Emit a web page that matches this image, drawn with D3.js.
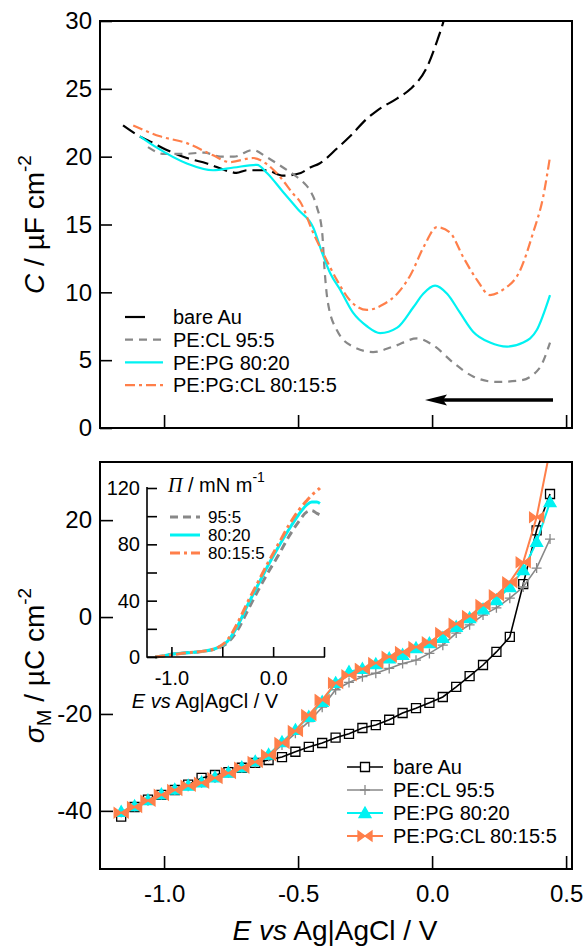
<!DOCTYPE html>
<html>
<head>
<meta charset="utf-8">
<script src="https://cdn.jsdelivr.net/npm/d3@7"></script>
<style>
  body { margin: 0; background: #fff; }
  svg { display: block; font-family: "Liberation Sans", Arial, sans-serif; }
</style>
</head>
<body>
<div class="container"></div>
<script>
// ---- top panel: capacitance C vs E ----
var bareAuE = [-1.153, -1.10, -1.04, -0.99, -0.915, -0.84, -0.755, -0.73, -0.69, -0.62, -0.555, -0.49, -0.455, -0.42, -0.355, -0.306, -0.243, -0.205, -0.13, -0.08, -0.019, 0.02, 0.04, 0.05];
var bareAuC = [22.3, 21.6, 21.0, 20.5, 19.9, 19.5, 18.9, 18.8, 19.0, 19.0, 18.6, 18.8, 19.2, 19.5, 20.6, 21.5, 22.8, 23.4, 24.3, 25.0, 26.6, 28.6, 29.8, 30.5];

var peClE = [-1.06, -1.0, -0.93, -0.85, -0.79, -0.74, -0.668, -0.62, -0.556, -0.504, -0.47, -0.455, -0.43, -0.41, -0.402, -0.39, -0.355, -0.295, -0.22, -0.145, -0.056, 0.004, 0.08, 0.153, 0.24, 0.328, 0.40, 0.44];
var peClC = [20.7, 20.2, 20.2, 20.3, 20.0, 20.0, 20.5, 20.0, 19.2, 18.5, 17.9, 17.5, 16.3, 14.4, 11.9, 9.4, 7.2, 6.0, 5.6, 6.0, 6.6, 6.1, 4.8, 3.8, 3.4, 3.5, 4.4, 6.3];

var pePgE = [-1.09, -1.03, -0.915, -0.817, -0.74, -0.653, -0.616, -0.556, -0.50, -0.444, -0.41, -0.38, -0.343, -0.295, -0.243, -0.194, -0.13, -0.07, -0.033, 0.011, 0.056, 0.104, 0.153, 0.216, 0.28, 0.34, 0.39, 0.44];
var pePgC = [21.5, 20.7, 19.5, 19.0, 19.2, 19.4, 18.8, 17.4, 16.1, 14.8, 12.9, 11.4, 10.2, 8.5, 7.5, 7.0, 7.4, 8.9, 9.9, 10.5, 9.9, 8.5, 7.1, 6.3, 6.0, 6.3, 7.2, 9.8];

var pePgClE = [-1.115, -1.015, -0.915, -0.817, -0.755, -0.668, -0.62, -0.567, -0.52, -0.49, -0.444, -0.407, -0.355, -0.306, -0.243, -0.183, -0.13, -0.08, -0.03, 0.018, 0.067, 0.116, 0.168, 0.216, 0.265, 0.328, 0.377, 0.414, 0.44];
var pePgClC = [22.3, 21.5, 21.0, 20.1, 19.6, 19.9, 19.5, 18.5, 17.3, 16.6, 14.4, 12.9, 10.9, 9.4, 8.7, 9.1, 9.9, 11.3, 13.4, 14.8, 14.4, 12.6, 10.9, 9.8, 10.2, 11.6, 14.4, 17.0, 20.0];

// ---- bottom panel: charge density sigma_M vs E ----
var sigmaE = [-1.16, -1.11, -1.06, -1.01, -0.96, -0.91, -0.86, -0.81, -0.76, -0.71, -0.66, -0.61, -0.56, -0.51, -0.46, -0.41, -0.36, -0.31, -0.26, -0.21, -0.16, -0.11, -0.06, -0.01, 0.04, 0.09, 0.14, 0.19, 0.24, 0.29, 0.34, 0.39, 0.44];
var sigmaBareAu = [-41.2, -39.2, -37.7, -36.7, -35.7, -34.6, -33.2, -32.6, -32.0, -31.1, -30.1, -29.5, -28.9, -27.8, -26.8, -26.0, -24.9, -24.1, -22.9, -22.3, -21.2, -19.8, -18.8, -17.7, -16.5, -14.4, -12.2, -9.9, -7.2, -4.1, 6.8, 17.9, 25.4];
var sigmaPeCl = [-40.3, -39.1, -37.9, -36.7, -35.7, -34.9, -34.2, -33.2, -32.2, -31.1, -30.0, -28.8, -26.4, -24.0, -21.6, -18.6, -15.0, -13.5, -12.3, -11.6, -10.6, -9.6, -8.9, -7.5, -5.8, -3.3, -1.6, 0.4, 1.9, 3.9, 6.2, 10.1, 16.1];
var sigmaPePg = [-40.2, -39.0, -37.8, -36.6, -35.6, -34.8, -34.1, -33.1, -32.1, -31.0, -29.8, -28.4, -25.8, -23.3, -20.6, -17.5, -13.6, -11.3, -10.7, -9.7, -8.5, -7.8, -6.4, -5.4, -4.3, -2.0, -0.2, 1.6, 3.5, 6.2, 9.7, 15.5, 23.7];
var sigmaPePgCl = [-40.4, -39.2, -37.9, -36.7, -35.7, -34.8, -34.2, -33.2, -32.2, -31.1, -29.9, -28.5, -26.0, -23.5, -20.2, -17.1, -13.6, -12.0, -10.7, -9.5, -8.2, -7.2, -6.2, -5.2, -3.3, -1.4, 0.2, 2.5, 4.5, 7.2, 11.3, 20.6, 34.5];

// ---- inset: surface pressure Pi vs E ----
var piE = [-1.16, -1.1, -1.0, -0.85, -0.7, -0.55, -0.45, -0.35, -0.25, -0.15, -0.05, 0.05, 0.15, 0.25, 0.33, 0.38, 0.43, 0.46];
var pi95 = [0, 0.5, 2, 3, 4, 6, 10, 19, 33, 47, 60, 72, 85, 96, 103, 104, 102, 101];
var pi8020 = [0, 0.5, 2, 3, 4, 6.5, 11, 22, 37, 51, 65, 78, 90, 101, 108, 110, 110, 109];
var pi80155 = [0, 0.5, 1.5, 3, 4, 6.5, 12, 24, 39, 53, 67, 80, 93, 104, 111, 115, 118, 120];

// ---- labels and ticks ----
var seriesNames = ["bare Au", "PE:CL 95:5", "PE:PG 80:20", "PE:PG:CL 80:15:5"];
var insetNames = ["95:5", "80:20", "80:15:5"];
var eTicks = [-1.0, -0.5, 0.0, 0.5];
var cTicks = [0, 5, 10, 15, 20, 25, 30];
var sigmaTicks = [-40, -20, 0, 20];
var piTicks = [0, 20, 40, 60, 80, 100, 120];
var piTickLabels = [0, 40, 80, 120];
var insetETickLabels = [-1.0, 0.0];

var COLORS = { black: "#000000", gray: "#888888", cyan: "#00F2F2", orange: "#FF7F4A" };
var W = 585, H = 947;
var PLOT = { left: 100, right: 572 };
var TOP = { top: 21, bottom: 428 };
var BOT = { top: 462, bottom: 869 };

var svg = d3.select(".container").append("svg")
    .attr("width", W).attr("height", H)
    .attr("viewBox", `0 0 ${W} ${H}`);

var x = d3.scaleLinear().domain([-1.239, 0.522]).range([PLOT.left, PLOT.right]);
var yC = d3.scaleLinear().domain([0, 30]).range([TOP.bottom, TOP.top]);
var yS = d3.scaleLinear().domain([-52, 32]).range([BOT.bottom, BOT.top]);

var defs = svg.append("defs");
defs.append("clipPath").attr("id", "clipTop").append("rect")
    .attr("x", PLOT.left).attr("y", TOP.top)
    .attr("width", PLOT.right - PLOT.left).attr("height", TOP.bottom - TOP.top);
defs.append("clipPath").attr("id", "clipBot").append("rect")
    .attr("x", PLOT.left).attr("y", BOT.top)
    .attr("width", PLOT.right - PLOT.left).attr("height", BOT.bottom - BOT.top);

function zip(a, b) { return a.map((d, i) => [d, b[i]]); }

function styleAxis(g, size) {
    g.select(".domain").remove();
    g.selectAll(".tick line").attr("stroke", "#000").attr("stroke-width", 1.6);
    g.selectAll(".tick text").attr("fill", "#000").style("font-size", size + "px");
}

// ================= TOP PANEL =================
var topLine = d3.line().x(d => x(d[0])).y(d => yC(d[1])).curve(d3.curveMonotoneX);

var topSeries = [
    { e: bareAuE, v: bareAuC, color: COLORS.black, dash: "14,6" },
    { e: peClE, v: peClC, color: COLORS.gray, dash: "8,6" },
    { e: pePgE, v: pePgC, color: COLORS.cyan, dash: null },
    { e: pePgClE, v: pePgClC, color: COLORS.orange, dash: "10,4,3,4" }
];

var topPlot = svg.append("g").attr("clip-path", "url(#clipTop)");
topSeries.forEach(function (s) {
    topPlot.append("path")
        .datum(zip(s.e, s.v))
        .attr("d", topLine)
        .attr("fill", "none")
        .attr("stroke", s.color)
        .attr("stroke-width", 2.2)
        .attr("stroke-dasharray", s.dash);
});

svg.append("g")
    .attr("transform", `translate(${PLOT.left},0)`)
    .call(d3.axisLeft(yC).tickValues(cTicks).tickSizeInner(-12).tickSizeOuter(0).tickPadding(8))
    .call(g => styleAxis(g, 24));

svg.append("g")
    .attr("transform", `translate(0,${TOP.bottom})`)
    .call(d3.axisBottom(x).tickValues(eTicks).tickSizeInner(-13).tickSizeOuter(0).tickFormat(""))
    .call(g => styleAxis(g, 24));

svg.append("rect")
    .attr("x", PLOT.left).attr("y", TOP.top)
    .attr("width", PLOT.right - PLOT.left).attr("height", TOP.bottom - TOP.top)
    .attr("fill", "none").attr("stroke", "#000").attr("stroke-width", 2);

// y title
var tTitle = svg.append("text")
    .attr("transform", `translate(44,${(TOP.top + TOP.bottom) / 2}) rotate(-90)`)
    .attr("text-anchor", "middle")
    .style("font-size", "28px");
tTitle.append("tspan").style("font-style", "italic").text("C");
tTitle.append("tspan").text(" / \u00B5F cm");
tTitle.append("tspan").attr("dy", -13).style("font-size", "19px").text("-2");

// top legend
var topLegend = svg.append("g");
topSeries.forEach(function (s, i) {
    var yy = 317 + i * 22.7;
    topLegend.append("line")
        .attr("x1", 125).attr("x2", i === 0 ? 145 : 163)
        .attr("y1", yy).attr("y2", yy)
        .attr("stroke", s.color).attr("stroke-width", 2.2)
        .attr("stroke-dasharray", i === 0 ? null : s.dash);
    topLegend.append("text")
        .attr("x", 173).attr("y", yy).attr("dy", "0.36em")
        .style("font-size", "20px")
        .text(seriesNames[i]);
});

// scan direction arrow
svg.append("line")
    .attr("x1", 553).attr("y1", 400).attr("x2", 440).attr("y2", 400)
    .attr("stroke", "#000").attr("stroke-width", 3.5);
svg.append("path")
    .attr("d", "M425,400 L447,394.5 L443,400 L447,405.5 Z")
    .attr("fill", "#000");

// ================= BOTTOM PANEL =================
var botLine = d3.line().x(d => x(d[0])).y(d => yS(d[1]));

var squarePath = "M-4.5,-4.5H4.5V4.5H-4.5Z";
var plusPath = "M-5,0H5M0,-5V5";
var triPath = "M0,-6L6,4.5H-6Z";
var bowPath = "M-7,-5L0,0L-7,5Z M7,-5L0,0L7,5Z";

var botSeries = [
    { v: sigmaBareAu, color: COLORS.black, marker: squarePath, fill: "#fff", mstroke: COLORS.black, width: 1.6 },
    { v: sigmaPeCl, color: COLORS.gray, marker: plusPath, fill: "none", mstroke: COLORS.gray, width: 1.6 },
    { v: sigmaPePg, color: COLORS.cyan, marker: triPath, fill: COLORS.cyan, mstroke: COLORS.cyan, width: 2 },
    { v: sigmaPePgCl, color: COLORS.orange, marker: bowPath, fill: COLORS.orange, mstroke: COLORS.orange, width: 2 }
];

var botPlot = svg.append("g").attr("clip-path", "url(#clipBot)");
botSeries.forEach(function (s) {
    var pts = zip(sigmaE, s.v);
    botPlot.append("path")
        .datum(pts)
        .attr("d", botLine)
        .attr("fill", "none")
        .attr("stroke", s.color)
        .attr("stroke-width", s.width);
    botPlot.selectAll(null)
        .data(pts)
        .enter()
        .append("path")
        .attr("transform", d => `translate(${x(d[0])},${yS(d[1])})`)
        .attr("d", s.marker)
        .attr("fill", s.fill === "#fff" ? "none" : s.fill)
        .attr("stroke", s.mstroke)
        .attr("stroke-width", 1.3);
});

svg.append("g")
    .attr("transform", `translate(${PLOT.left},0)`)
    .call(d3.axisLeft(yS).tickValues(sigmaTicks).tickSizeInner(-13).tickSizeOuter(0).tickPadding(8)
        .tickFormat(d => String(d)))
    .call(g => styleAxis(g, 24));

svg.append("g")
    .attr("transform", `translate(0,${BOT.bottom})`)
    .call(d3.axisBottom(x).tickValues(eTicks).tickSizeInner(-13).tickSizeOuter(0).tickPadding(16)
        .tickFormat(d => d.toFixed(1)))
    .call(g => styleAxis(g, 24));

svg.append("rect")
    .attr("x", PLOT.left).attr("y", BOT.top)
    .attr("width", PLOT.right - PLOT.left).attr("height", BOT.bottom - BOT.top)
    .attr("fill", "none").attr("stroke", "#000").attr("stroke-width", 2);

var sTitle = svg.append("text")
    .attr("transform", `translate(44,${(BOT.top + BOT.bottom) / 2}) rotate(-90)`)
    .attr("text-anchor", "middle")
    .style("font-size", "28px");
sTitle.append("tspan").style("font-style", "italic").text("\u03C3");
sTitle.append("tspan").attr("dy", 7).style("font-size", "20px").text("M");
sTitle.append("tspan").attr("dy", -7).text(" / \u00B5C cm");
sTitle.append("tspan").attr("dy", -13).style("font-size", "19px").text("-2");

var xTitle = svg.append("text")
    .attr("x", 335).attr("y", 940)
    .attr("text-anchor", "middle")
    .style("font-size", "28px");
xTitle.append("tspan").style("font-style", "italic").text("E vs");
xTitle.append("tspan").text(" Ag|AgCl / V");

// bottom legend
var botLegend = svg.append("g");
botSeries.forEach(function (s, i) {
    var yy = 767 + i * 23;
    botLegend.append("line")
        .attr("x1", 347).attr("x2", 383).attr("y1", yy).attr("y2", yy)
        .attr("stroke", s.color).attr("stroke-width", s.width);
    botLegend.append("path")
        .attr("transform", `translate(365,${yy})`)
        .attr("d", s.marker)
        .attr("fill", s.fill)
        .attr("stroke", s.mstroke)
        .attr("stroke-width", 1.3);
    botLegend.append("text")
        .attr("x", 393).attr("y", yy).attr("dy", "0.36em")
        .style("font-size", "20px")
        .text(seriesNames[i]);
});

// ================= INSET =================
var xi = d3.scaleLinear().domain([-1.24, 0.5]).range([147, 324]);
var yi = d3.scaleLinear().domain([0, 120]).range([657, 488]);
var insetLine = d3.line().x(d => xi(d[0])).y(d => yi(d[1])).curve(d3.curveMonotoneX);

var insetSeries = [
    { v: pi95, color: COLORS.gray, dash: "8,5" },
    { v: pi8020, color: COLORS.cyan, dash: null },
    { v: pi80155, color: COLORS.orange, dash: "10,4,3,4" }
];
insetSeries.forEach(function (s) {
    svg.append("path")
        .datum(zip(piE, s.v))
        .attr("d", insetLine)
        .attr("fill", "none")
        .attr("stroke", s.color)
        .attr("stroke-width", 3)
        .attr("stroke-dasharray", s.dash);
});

svg.append("g")
    .attr("transform", "translate(147,0)")
    .call(d3.axisLeft(yi).tickValues(piTicks).tickSizeInner(-10).tickSizeOuter(0).tickPadding(7)
        .tickFormat(d => piTickLabels.includes(d) ? String(d) : ""))
    .call(g => styleAxis(g, 20));

svg.append("g")
    .attr("transform", "translate(0,657)")
    .call(d3.axisBottom(xi).tickValues(eTicks).tickSizeInner(-10).tickSizeOuter(0).tickPadding(14)
        .tickFormat(d => insetETickLabels.includes(d) ? d.toFixed(1) : ""))
    .call(g => styleAxis(g, 20));

svg.append("path")
    .attr("d", "M147,487V657H325")
    .attr("fill", "none").attr("stroke", "#000").attr("stroke-width", 1.6);

var piTitle = svg.append("text")
    .attr("x", 168).attr("y", 492)
    .style("font-size", "20px");
piTitle.append("tspan").style("font-family", "'Liberation Serif', serif").style("font-style", "italic").text("\u03A0");
piTitle.append("tspan").text(" / mN m");
piTitle.append("tspan").attr("dy", -10).style("font-size", "14px").text("-1");

var ixTitle = svg.append("text")
    .attr("x", 205).attr("y", 708)
    .attr("text-anchor", "middle")
    .style("font-size", "20px");
ixTitle.append("tspan").style("font-style", "italic").text("E vs");
ixTitle.append("tspan").text(" Ag|AgCl / V");

insetSeries.forEach(function (s, i) {
    var yy = 517 + i * 18;
    svg.append("line")
        .attr("x1", 170).attr("x2", 200).attr("y1", yy).attr("y2", yy)
        .attr("stroke", s.color).attr("stroke-width", 3)
        .attr("stroke-dasharray", s.dash);
    svg.append("text")
        .attr("x", 208).attr("y", yy).attr("dy", "0.36em")
        .style("font-size", "17px")
        .text(insetNames[i]);
});
</script>
</body>
</html>
